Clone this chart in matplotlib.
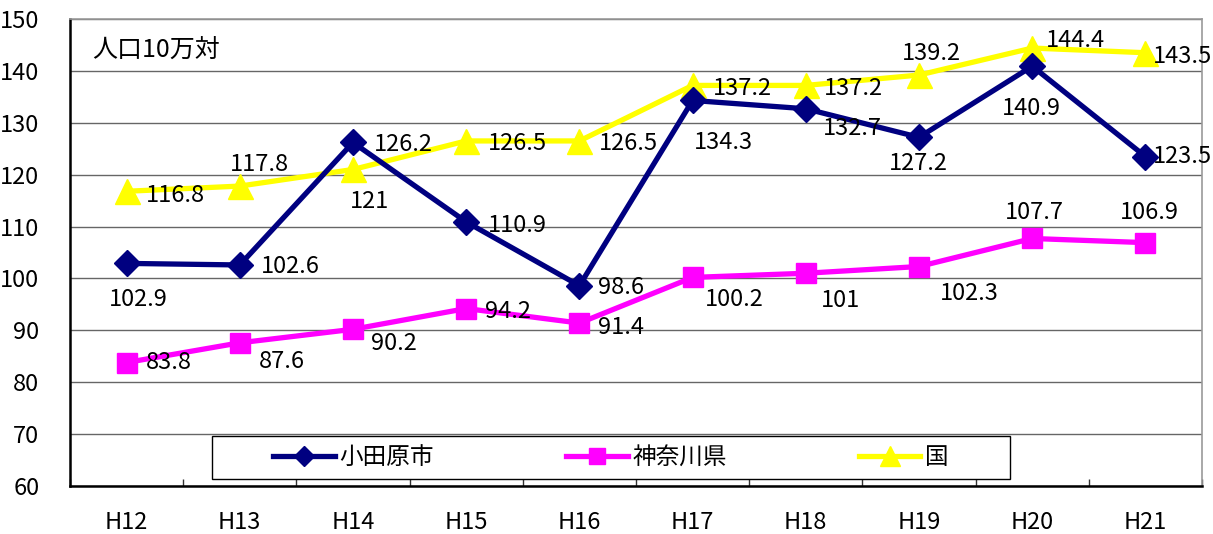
import matplotlib
matplotlib.use('Agg')
import matplotlib.pyplot as plt
from matplotlib.patches import Rectangle

plt.rcParams['font.family'] = ['Noto Sans CJK JP', 'DejaVu Sans']

# データ
years = ['H12', 'H13', 'H14', 'H15', 'H16', 'H17', 'H18', 'H19', 'H20', 'H21']
odawara = [102.9, 102.6, 126.2, 110.9, 98.6, 134.3, 132.7, 127.2, 140.9, 123.5]
kanagawa = [83.8, 87.6, 90.2, 94.2, 91.4, 100.2, 101, 102.3, 107.7, 106.9]
kuni = [116.8, 117.8, 121, 126.5, 126.5, 137.2, 137.2, 139.2, 144.4, 143.5]
label_texts = {
    'odawara': ['102.9', '102.6', '126.2', '110.9', '98.6', '134.3', '132.7', '127.2', '140.9', '123.5'],
    'kanagawa': ['83.8', '87.6', '90.2', '94.2', '91.4', '100.2', '101', '102.3', '107.7', '106.9'],
    'kuni': ['116.8', '117.8', '121', '126.5', '126.5', '137.2', '137.2', '139.2', '144.4', '143.5'],
}

# ラベルの位置 (ピクセル, 右/上が正)
off_odawara = [(12, -36), (51, -2), (50, -2), (51, -4), (42, -2),
               (31, -42), (47, -20), (-1, -26), (-1, -42), (37, 0)]
off_kanagawa = [(42, 0), (42, -19), (41, -14), (42, -3), (42, -4),
                (42, -22), (35, -27), (50, -27), (2, 26), (4, 30)]
off_kuni = [(49, -4), (20, 22), (17, -32), (51, -3), (49, -3),
            (50, -3), (48, -3), (12, 22), (43, 8), (37, -4)]

fig = plt.figure(figsize=(12.13, 5.34), dpi=100)
ax = fig.add_axes([70 / 1213, 1 - 486 / 534, 1132 / 1213, 467 / 534])

x = list(range(len(years)))
l1, = ax.plot(x, odawara, color='#000080', lw=3.8, marker='D', ms=13, label='小田原市', zorder=4)
l2, = ax.plot(x, kanagawa, color='#FF00FF', lw=3.8, marker='s', ms=15, label='神奈川県', zorder=3)
l3, = ax.plot(x, kuni, color='#FFFF00', lw=3.8, marker='^', ms=18, label='国', zorder=3)

for vals, texts, offs in [(odawara, label_texts['odawara'], off_odawara),
                          (kanagawa, label_texts['kanagawa'], off_kanagawa),
                          (kuni, label_texts['kuni'], off_kuni)]:
    for i, v in enumerate(vals):
        ax.annotate(texts[i], (i, v), xytext=offs[i], textcoords='offset pixels',
                    ha='center', va='center', fontsize=17, zorder=6,
                    annotation_clip=False)

ax.set_xlim(-0.5, 9.5)
ax.set_ylim(60, 150)
ax.set_yticks(range(60, 151, 10))
ax.set_xticks(x)
ax.set_xticklabels(years)
ax.set_xticks([i + 0.5 for i in range(-1, 10)], minor=True)
ax.tick_params(axis='x', which='major', length=0, pad=18, labelsize=17)
ax.tick_params(axis='x', which='minor', direction='in', length=5, width=1, color='#333333')
ax.tick_params(axis='y', length=0, pad=22, labelsize=17)

ax.grid(axis='y', color='#666666', lw=1)
ax.set_axisbelow(True)
for s in ['top', 'right']:
    ax.spines[s].set_color('#999999')
    ax.spines[s].set_linewidth(1.2)
for s in ['left', 'bottom']:
    ax.spines[s].set_color('black')
    ax.spines[s].set_linewidth(1.8)

ax.text(0.02, 0.934, '人口10万対', transform=ax.transAxes, fontsize=18,
        ha='left', va='center')

# 凡例
bx, by = (212 - 70) / 1132, (486 - 479) / 467
bw, bh = 798 / 1132, 43 / 467
ax.add_patch(Rectangle((bx, by), bw, bh, transform=ax.transAxes,
                       facecolor='white', edgecolor='black', lw=1, zorder=7))
leg = ax.legend(handles=[l1, l2, l3], loc='center', ncol=3, frameon=False,
                bbox_to_anchor=(bx + bw / 2, by + bh / 2), fontsize=17,
                handlelength=2.6, handletextpad=0.2, columnspacing=5.6,
                markerscale=0.8)
leg.set_zorder(8)

fig.savefig('out.png', dpi=100)
